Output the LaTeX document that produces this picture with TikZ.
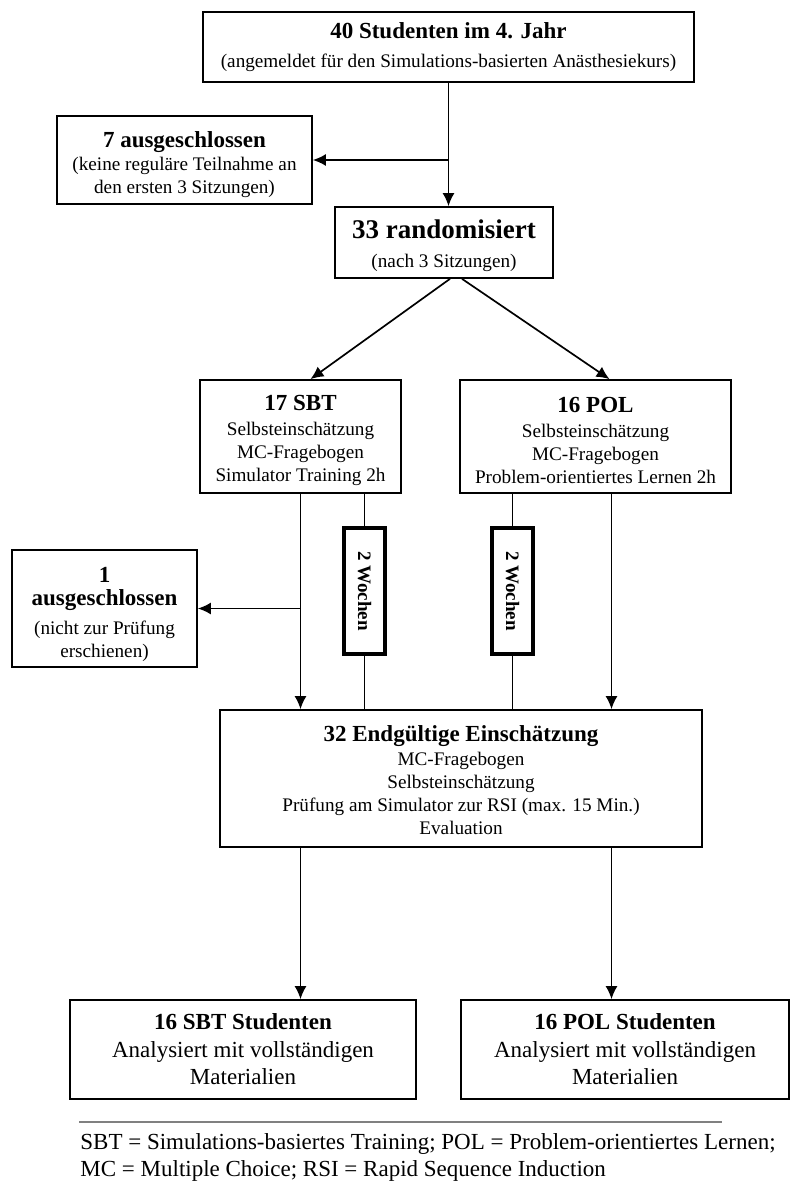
\documentclass[tikz,border=0pt]{standalone}
\usepackage{fontspec}
\setmainfont{Liberation Serif}
\usetikzlibrary{arrows.meta}

\newcommand{\kopf}{\bfseries\fontsize{11.5}{14}\selectfont}
\newcommand{\klein}{\fontsize{9.6}{11.5}\selectfont}
\newcommand{\gross}{\fontsize{11.5}{13.75}\selectfont}

\tikzset{
	kasten/.style = {draw, line width = 0.85pt, align = center, inner sep = 2pt, font = \klein},
	wochen/.style = {draw, line width = 1.7pt, minimum width = 20.5pt, minimum height = 63pt, inner sep = 0pt, font = \bfseries\fontsize{9.5}{11}\selectfont},
	pfeil/.style = {line width = 0.85pt, -{Latex[length = 6.5pt, width = 6pt]}},
	linie/.style = {line width = 0.85pt}
}

\begin{document}
\begin{tikzpicture}[x = 0.5pt, y = -0.5pt]

	\useasboundingbox (0,0) rectangle (790,1183);

	\node (jahr)[kasten, minimum width = 245.5pt, minimum height = 35pt] at (448.5,47) {
		{\kopf 40 Studenten im 4. Jahr}\\[3pt]
		(angemeldet für den Simulations-basierten Anästhesiekurs)
	};
	\node (aus7)[kasten, minimum width = 127.5pt, minimum height = 44pt] at (184.5,160) {
		{\kopf\rule{0pt}{13pt}7 ausgeschlossen}\\
		(keine reguläre Teilnahme an\\
		den ersten 3 Sitzungen)
	};
	\node (rand)[kasten, minimum width = 109pt, minimum height = 35.5pt] at (444,242.5) {
		{\bfseries\fontsize{13.5}{16}\selectfont\rule{0pt}{12.5pt}33 randomisiert}\\[3pt]
		(nach 3 Sitzungen)
	};

	\node (sbt)[kasten, minimum width = 100.5pt, minimum height = 56.5pt] at (300.5,436.5) {
		{\kopf\rule{0pt}{12pt}17 SBT}\\[1pt]
		Selbsteinschätzung\\
		MC-Fragebogen\\
		Simulator Training 2h
	};
	\node (pol)[kasten, minimum width = 135.5pt, minimum height = 56.5pt] at (595.5,436.5) {
		{\kopf\rule{0pt}{12pt}16 POL}\\[1pt]
		Selbsteinschätzung\\
		MC-Fragebogen\\
		Problem-orientiertes Lernen 2h
	};

	\node (woche1)[wochen] at (364.5,591) {\rotatebox{-90}{2 Wochen}};
	\node (woche2)[wochen] at (512.5,591) {\rotatebox{-90}{2 Wochen}};

	\node (aus1)[kasten, minimum width = 92.5pt, minimum height = 58.5pt] at (104.5,608.5) {
		{\kopf\rule{0pt}{14pt}1}\\
		{\kopf ausgeschlossen}\\[3pt]
		(nicht zur Prüfung\\
		erschienen)
	};

	\node (end)[kasten, minimum width = 241pt, minimum height = 68.5pt] at (461,778.5) {
		{\kopf\rule{0pt}{10pt}32 Endgültige Einschätzung}\\[0.5pt]
		MC-Fragebogen\\
		Selbsteinschätzung\\
		Prüfung am Simulator zur RSI (max. 15 Min.)\\
		Evaluation
	};

	\node (sbtend)[kasten, font = \gross, minimum width = 173pt, minimum height = 49.5pt] at (243,1049.5) {
		{\bfseries 16 SBT Studenten}\\
		Analysiert mit vollständigen\\
		Materialien
	};
	\node (polend)[kasten, font = \gross, minimum width = 164pt, minimum height = 49.5pt] at (625,1049.5) {
		{\bfseries 16 POL Studenten}\\
		Analysiert mit vollständigen\\
		Materialien
	};

	\coordinate (polmitte) at ([xshift = 8pt]pol.south);

	\draw [pfeil](jahr.south) -- (jahr.south |- rand.north);
	\draw [pfeil](jahr.south |- aus7.east) -- (aus7.east);
	\draw [pfeil]([xshift = 3pt]rand.south) -- ([xshift = 5pt]sbt.north);
	\draw [pfeil]([xshift = 9pt]rand.south) -- ([xshift = 7pt]pol.north);

	\draw [pfeil](sbt.south) -- (sbt.south |- end.north);
	\draw [pfeil](sbt.south |- aus1.east) -- (aus1.east);
	\draw [linie](sbt.south -| woche1.north) -- (woche1.north);
	\draw [linie](woche1.south) -- (woche1.south |- end.north);
	\draw [linie](pol.south -| woche2.north) -- (woche2.north);
	\draw [linie](woche2.south) -- (woche2.south |- end.north);
	\draw [pfeil](polmitte) -- (polmitte |- end.north);

	\draw [pfeil](end.south -| sbt.south) -- (sbt.south |- sbtend.north);
	\draw [pfeil](end.south -| polmitte) -- (polmitte |- polend.north);

	\draw [gray, line width = 0.7pt] (79,1122) -- (722,1122);
	\node (legende)[anchor = north west, align = left, font = \gross, inner sep = 0pt] at (80,1133) {
		SBT = Simulations-basiertes Training; POL = Problem-orientiertes Lernen;\\
		MC = Multiple Choice; RSI = Rapid Sequence Induction
	};
\end{tikzpicture}
\end{document}
